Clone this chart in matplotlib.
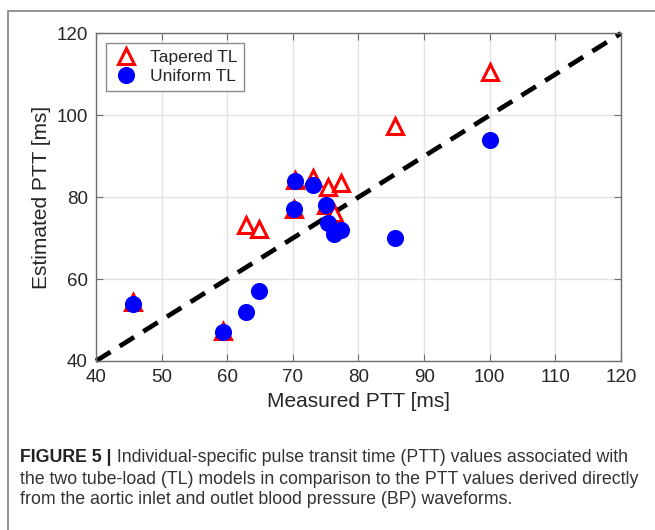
import matplotlib
matplotlib.use("Agg")
import matplotlib.pyplot as plt
from matplotlib import font_manager
from matplotlib.patches import Rectangle

# Measured vs. estimated pulse transit time, one entry per subject
measured_ptt = [45.6, 59.4, 62.9, 64.8, 70.1, 70.4, 73.1, 75.1, 75.3, 76.2, 77.4, 85.6, 100.0]
tapered_ptt = [54.3, 47.2, 73.3, 72.2, 77.2, 84.2, 84.7, 78.0, 82.4, 76.1, 83.4, 97.4, 110.6]
uniform_ptt = [54.0, 47.0, 52.0, 57.0, 77.0, 84.0, 83.0, 78.0, 73.6, 71.0, 72.0, 70.0, 94.0]

axis_lim = [40, 120]
ticks = [40, 50, 60, 70, 80, 90, 100, 110, 120]
yticks = [40, 60, 80, 100, 120]

caption_head = "FIGURE 5 |"
caption_lines = [
    " Individual-specific pulse transit time (PTT) values associated with",
    "the two tube-load (TL) models in comparison to the PTT values derived directly",
    "from the aortic inlet and outlet blood pressure (BP) waveforms.",
]

base_font = "Liberation Sans"
try:
    font_manager.findfont("Liberation Sans Narrow", fallback_to_default=False)
    caption_font = "Liberation Sans Narrow"
    caption_size = 14.8
except ValueError:
    caption_font = base_font
    caption_size = 12.8

plt.rcParams["font.family"] = [base_font, "DejaVu Sans"]

fig = plt.figure(figsize=(6.55, 5.3), dpi=100)
ax = fig.add_axes([0.1466, 0.319, 0.8014, 0.618])

# outer panel frame
fig.patches.append(Rectangle((8 / 655, -0.1), 1.2, 1 - 11 / 530 + 0.1,
                             transform=fig.transFigure, fill=False,
                             edgecolor="#8a8a8a", linewidth=1.3))

ax.plot(axis_lim, axis_lim, color="black", linewidth=3.4,
        linestyle=(0, (3.6, 2.3)), zorder=2, clip_on=False)
ax.plot(measured_ptt, tapered_ptt, linestyle="none", marker="^",
        markersize=11.5, markerfacecolor="white", markeredgecolor="#ff0000",
        markeredgewidth=2.2, label="Tapered TL", zorder=3)
ax.plot(measured_ptt, uniform_ptt, linestyle="none", marker="o",
        markersize=11.3, markerfacecolor="#0000ff", markeredgecolor="#0000ff",
        label="Uniform TL", zorder=4)

ax.set_xlim(axis_lim)
ax.set_ylim(axis_lim)
ax.set_xticks(ticks)
ax.set_yticks(yticks)
ax.grid(True, color="#e3e3e3", linewidth=1.0)
ax.set_axisbelow(True)
for s in ax.spines.values():
    s.set_color("#6e6e6e")
    s.set_linewidth(1.0)
ax.tick_params(direction="in", length=5, width=0.8, color="#6e6e6e",
               top=True, right=True, labelsize=13.5, labelcolor="#262626",
               pad=6)
ax.set_xlabel("Measured PTT [ms]", fontsize=15, color="#262626", labelpad=4)
ax.set_ylabel("Estimated PTT [ms]", fontsize=15, color="#262626", labelpad=4)

leg = ax.legend(loc="upper left", bbox_to_anchor=(0.0, 1.0), fontsize=12.5,
                frameon=True, fancybox=False, edgecolor="#6e6e6e",
                borderpad=0.38, handletextpad=0.6, labelspacing=0.25,
                borderaxespad=0.55, handlelength=1.6)
leg.get_frame().set_linewidth(1.0)
for t in leg.get_texts():
    t.set_color("#262626")

# caption below the plot, bold lead-in then regular text
renderer = fig.canvas.get_renderer()
x0 = 20 / 655
line_y = [1 - 458 / 530, 1 - 479 / 530, 1 - 500 / 530]
head = fig.text(x0, line_y[0], caption_head, fontsize=caption_size,
                fontweight="bold", family=caption_font, color="#222222",
                va="center")
bb = head.get_window_extent(renderer=renderer)
fig.text(bb.x1 / fig.bbox.width, line_y[0], caption_lines[0],
         fontsize=caption_size, family=caption_font, color="#333333",
         va="center")
for txt, y in zip(caption_lines[1:], line_y[1:]):
    fig.text(x0, y, txt, fontsize=caption_size, family=caption_font,
             color="#333333", va="center")

fig.savefig("out.png", dpi=100)
